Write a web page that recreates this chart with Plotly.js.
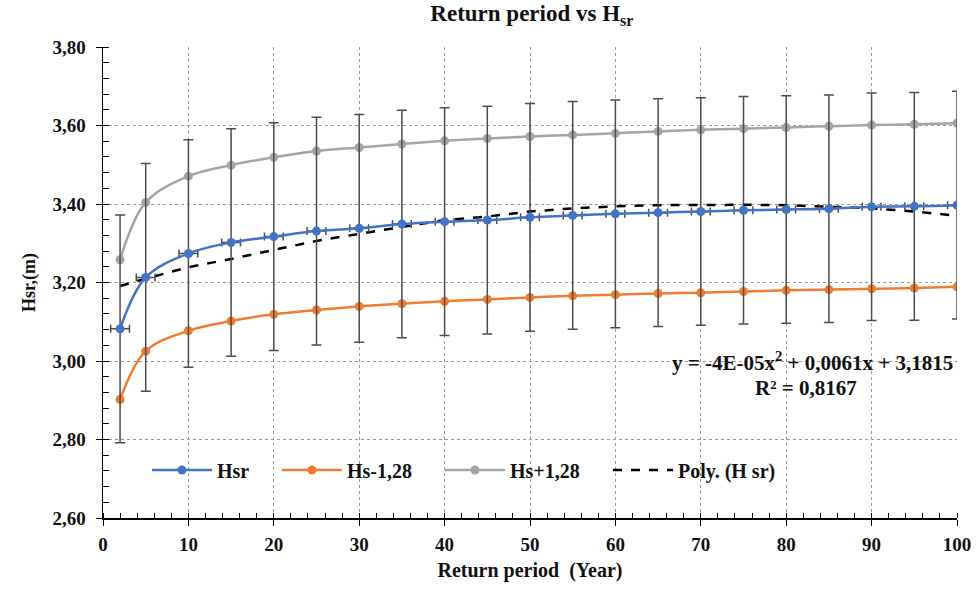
<!DOCTYPE html>
<html>
<head>
<meta charset="utf-8">
<script src="https://cdn.plot.ly/plotly-3.0.1.min.js"></script>
<style>html,body{margin:0;padding:0;background:#fff;}#chart{width:976px;height:592px;}</style>
</head>
<body>
<div id="chart"></div>
<script>
const returnPeriod = [2, 5, 10, 15, 20, 25, 30, 35, 40, 45, 50, 55, 60, 65, 70, 75, 80, 85, 90, 95, 100];
const hsr      = [3.082, 3.213, 3.274, 3.302, 3.317, 3.331, 3.338, 3.349, 3.355, 3.359, 3.366, 3.371, 3.375, 3.378, 3.381, 3.384, 3.386, 3.388, 3.393, 3.394, 3.397];
const hsMinus  = [2.902, 3.025, 3.077, 3.102, 3.119, 3.130, 3.139, 3.146, 3.152, 3.157, 3.162, 3.166, 3.169, 3.172, 3.174, 3.177, 3.180, 3.182, 3.184, 3.186, 3.189];
const hsPlus   = [3.258, 3.404, 3.471, 3.499, 3.519, 3.535, 3.544, 3.553, 3.561, 3.567, 3.572, 3.576, 3.580, 3.585, 3.589, 3.592, 3.595, 3.598, 3.601, 3.603, 3.606];
const polyHsr  = [3.191, 3.210, 3.239, 3.260, 3.283, 3.306, 3.324, 3.342, 3.359, 3.368, 3.381, 3.389, 3.394, 3.397, 3.398, 3.398, 3.397, 3.393, 3.389, 3.381, 3.370];
const hsrErrY = 0.29;
const hsrErrX = 1.1;
const eqText = "y = -4E-05x<sup>2</sup> + 0,0061x + 3,1815";
const r2Text = "R² = 0,8167";

const serif = '"Liberation Serif", serif';
const blue = "#4472C4", orange = "#ED7D31", gray = "#A5A5A5";

const traces = [
  {x: returnPeriod, y: hsMinus, name: "Hs-1,28", type: "scatter", mode: "lines+markers", legend: "legend3",
   line: {color: orange, width: 2.5, shape: "spline"}, marker: {color: orange, size: 9}},
  {x: returnPeriod, y: hsPlus, name: "Hs+1,28", type: "scatter", mode: "lines+markers", legend: "legend4",
   line: {color: gray, width: 2.5, shape: "spline"}, marker: {color: gray, size: 9}},
  {x: returnPeriod, y: polyHsr, name: "Poly. (H sr)", type: "scatter", mode: "lines", legend: "legend2",
   line: {color: "#000", width: 2.5, dash: "dash"}},
  {x: returnPeriod, y: hsr, name: "Hsr", type: "scatter", mode: "lines+markers", legend: "legend",
   line: {color: blue, width: 2.5, shape: "spline"}, marker: {color: blue, size: 9},
   error_y: {type: "constant", value: hsrErrY, color: "#4d4d4d", thickness: 1.5, width: 5},
   error_x: {type: "constant", value: hsrErrX, color: "#4d4d4d", thickness: 1.5, width: 4}}
];

const legendFont = {family: serif, size: 20, color: "#111", weight: "bold"};
function leg(x) {
  return {orientation: "h", x: x, y: 0.102, xanchor: "left", yanchor: "middle",
          bgcolor: "rgba(0,0,0,0)", font: legendFont, itemwidth: 60};
}

const layout = {
  width: 976, height: 592,
  margin: {l: 103, r: 19, t: 47, b: 74},
  paper_bgcolor: "#fff", plot_bgcolor: "#fff",
  separators: ", ",
  font: {family: serif, color: "#222", size: 15},
  title: {text: "<b>Return period vs H<sub>sr</sub></b>", x: 0.545, xanchor: "center", y: 0.992, yanchor: "top",
          font: {family: serif, size: 23, color: "#111"}},
  xaxis: {
    range: [0, 100], tick0: 0, dtick: 10, tickformat: "d",
    showline: true, linecolor: "#000", linewidth: 1.5,
    ticks: "outside", ticklen: 6, tickcolor: "#000", ticklabelstandoff: 3,
    showgrid: true, gridcolor: "#999", griddash: "3px,3px", gridwidth: 1,
    zeroline: false,
    tickfont: {family: serif, size: 19, color: "#111", weight: "bold"},
    minor: {dtick: 2, ticks: "inside", ticklen: 5, tickcolor: "#000", showgrid: false},
    title: {text: "<b>Return period  (Year)</b>", font: {family: serif, size: 20, color: "#111"}, standoff: 8}
  },
  yaxis: {
    range: [2.6, 3.8], tick0: 2.6, dtick: 0.2, tickformat: ".2f",
    showline: true, linecolor: "#000", linewidth: 1.5,
    ticks: "outside", ticklen: 6, tickcolor: "#000", ticklabelstandoff: 6,
    showgrid: true, gridcolor: "#999", griddash: "3px,3px", gridwidth: 1,
    zeroline: false,
    tickfont: {family: serif, size: 19, color: "#111", weight: "bold"},
    minor: {dtick: 0.04, ticks: "inside", ticklen: 6, tickcolor: "#000", showgrid: false},
    title: {text: "<b>Hsr,(m)</b>", font: {family: serif, size: 18, color: "#111"}, standoff: 12}
  },
  legend: leg(0.0515),
  legend3: leg(0.2037),
  legend4: leg(0.3946),
  legend2: leg(0.5913),
  annotations: [
    {xref: "paper", yref: "y", x: 0.998, y: 3.0, xanchor: "right", yanchor: "middle", showarrow: false,
     text: "<b>" + eqText + "</b>", font: {family: serif, size: 21, color: "#111"}},
    {xref: "x", yref: "y", x: 82.3, y: 2.932, xanchor: "center", yanchor: "middle", showarrow: false,
     text: "<b>" + r2Text + "</b>", font: {family: serif, size: 21, color: "#111"}}
  ],
  showlegend: true
};

Plotly.newPlot("chart", traces, layout, {displayModeBar: false, staticPlot: true});
</script>
</body>
</html>
